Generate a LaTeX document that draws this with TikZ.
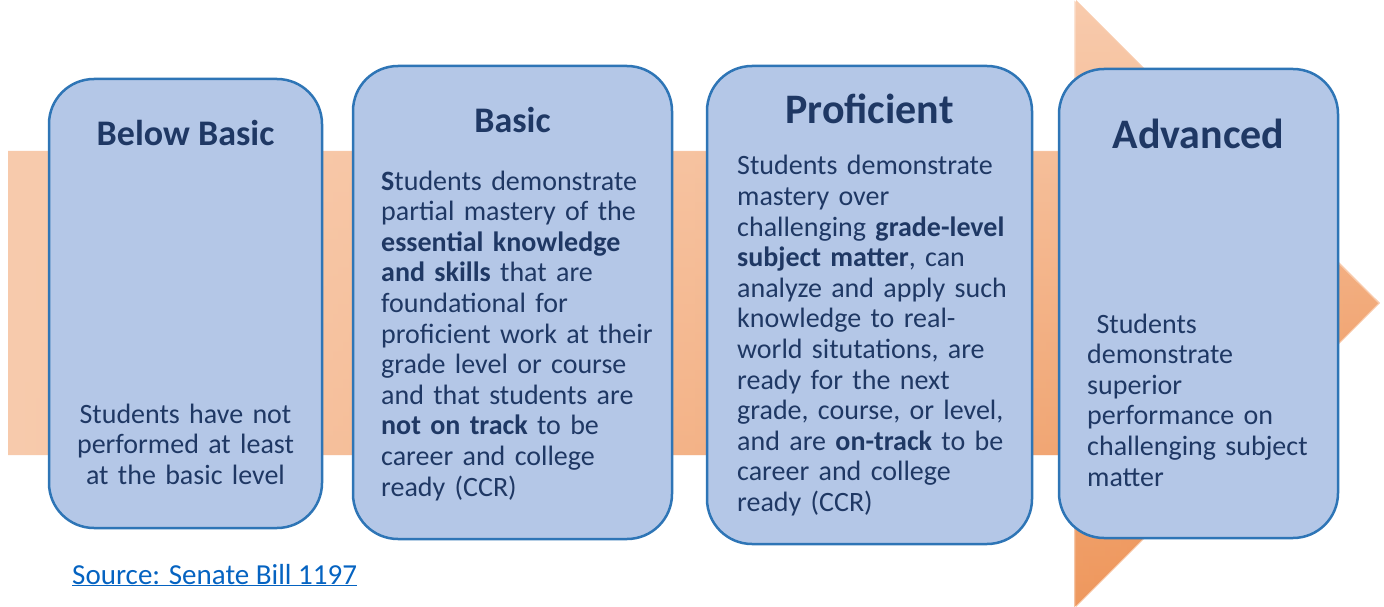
\documentclass[tikz,border=0pt]{standalone}
\usepackage{fontspec}
\setmainfont{Carlito}
\usepackage{tikz}
\usetikzlibrary{fadings}
\definecolor{arrowlight}{RGB}{248,203,173}
\definecolor{arrowdark}{RGB}{236,138,72}
\definecolor{boxfill}{RGB}{180,199,231}
\definecolor{boxline}{RGB}{46,117,182}
\definecolor{boxtext}{RGB}{31,56,100}
\definecolor{linkblue}{RGB}{5,99,193}
\newcommand{\arrowpath}{(8,151) -- (1076,151) -- (1076,0) -- (1380,303) -- (1076,607) -- (1076,455) -- (8,455) -- cycle}

\begin{document}
\begin{tikzpicture}[x=1pt,y=-1pt,
  levelbox/.style={fill=boxfill,draw=boxline,line width=2.5pt,rounded corners=45pt,inner sep=0pt},
  levelname/.style={text=boxtext,font=\fontsize{36}{36}\selectfont\bfseries,anchor=base,inner sep=0pt},
  bigname/.style={levelname,font=\fontsize{42}{42}\selectfont\bfseries},
  leveltext/.style={text=boxtext,font=\fontsize{28}{30.6}\selectfont,anchor=base west,inner sep=0pt,align=left,text width=290pt}]
\useasboundingbox (0,0) rectangle (1384,607);
% the big arrow behind the boxes, darker towards the lower right
\fill [arrowlight] \arrowpath;
\shade [top color=arrowlight,middle color=arrowlight!93!arrowdark,bottom color=arrowdark,path fading=west] \arrowpath;

\node [levelbox,minimum width=273pt,minimum height=449pt] (belowbox) at (185.5,303.5) {};
\node [levelbox,minimum width=319pt,minimum height=473pt] (basicbox) at (512.5,302.5) {};
\node [levelbox,minimum width=325pt,minimum height=478pt] (profbox) at (869.5,305) {};
\node [levelbox,minimum width=279pt,minimum height=469pt] (advbox) at (1198.5,303.5) {};

\node [levelname] (belowtitle) at (185.5,146) {Below Basic};
\node [levelname] (basictitle) at (512.5,133) {Basic};
\node [bigname] (proftitle) at (869.5,124) {Proficient};
\node [bigname] (advtitle) at (1198.5,149) {Advanced};

\node [leveltext,anchor=base,align=center,text width=270pt] (belowtext) at (185.5,423)
{Students have not\\performed at least\\at the basic level};
\node [leveltext] (basictext) at (381,190)
{\textbf{S}tudents demonstrate\\partial mastery of the\\\textbf{essential knowledge}\\\textbf{and skills} that are\\foundational for\\proficient work at their\\grade level or course\\and that students are\\\textbf{not on track} to be\\career and college\\ready (CCR)};
\node [leveltext] (proftext) at (737,175)
{Students demonstrate\\mastery over\\challenging \textbf{grade-level}\\\textbf{subject matter}, can\\analyze and apply such\\knowledge to real-\\world situtations, are\\ready for the next\\grade, course, or level,\\and are \textbf{on-track} to be\\career and college\\ready (CCR)};
\node [leveltext,text width=245pt] (advtext) at (1087,333)
{\ Students\\demonstrate\\superior\\performance on\\challenging subject\\matter};

\node [anchor=base west,inner sep=0pt,text=linkblue,font=\fontsize{29}{30}\selectfont] (source) at (72,584)
{\underline{Source: Senate Bill 1197}};
\end{tikzpicture}
\end{document}
